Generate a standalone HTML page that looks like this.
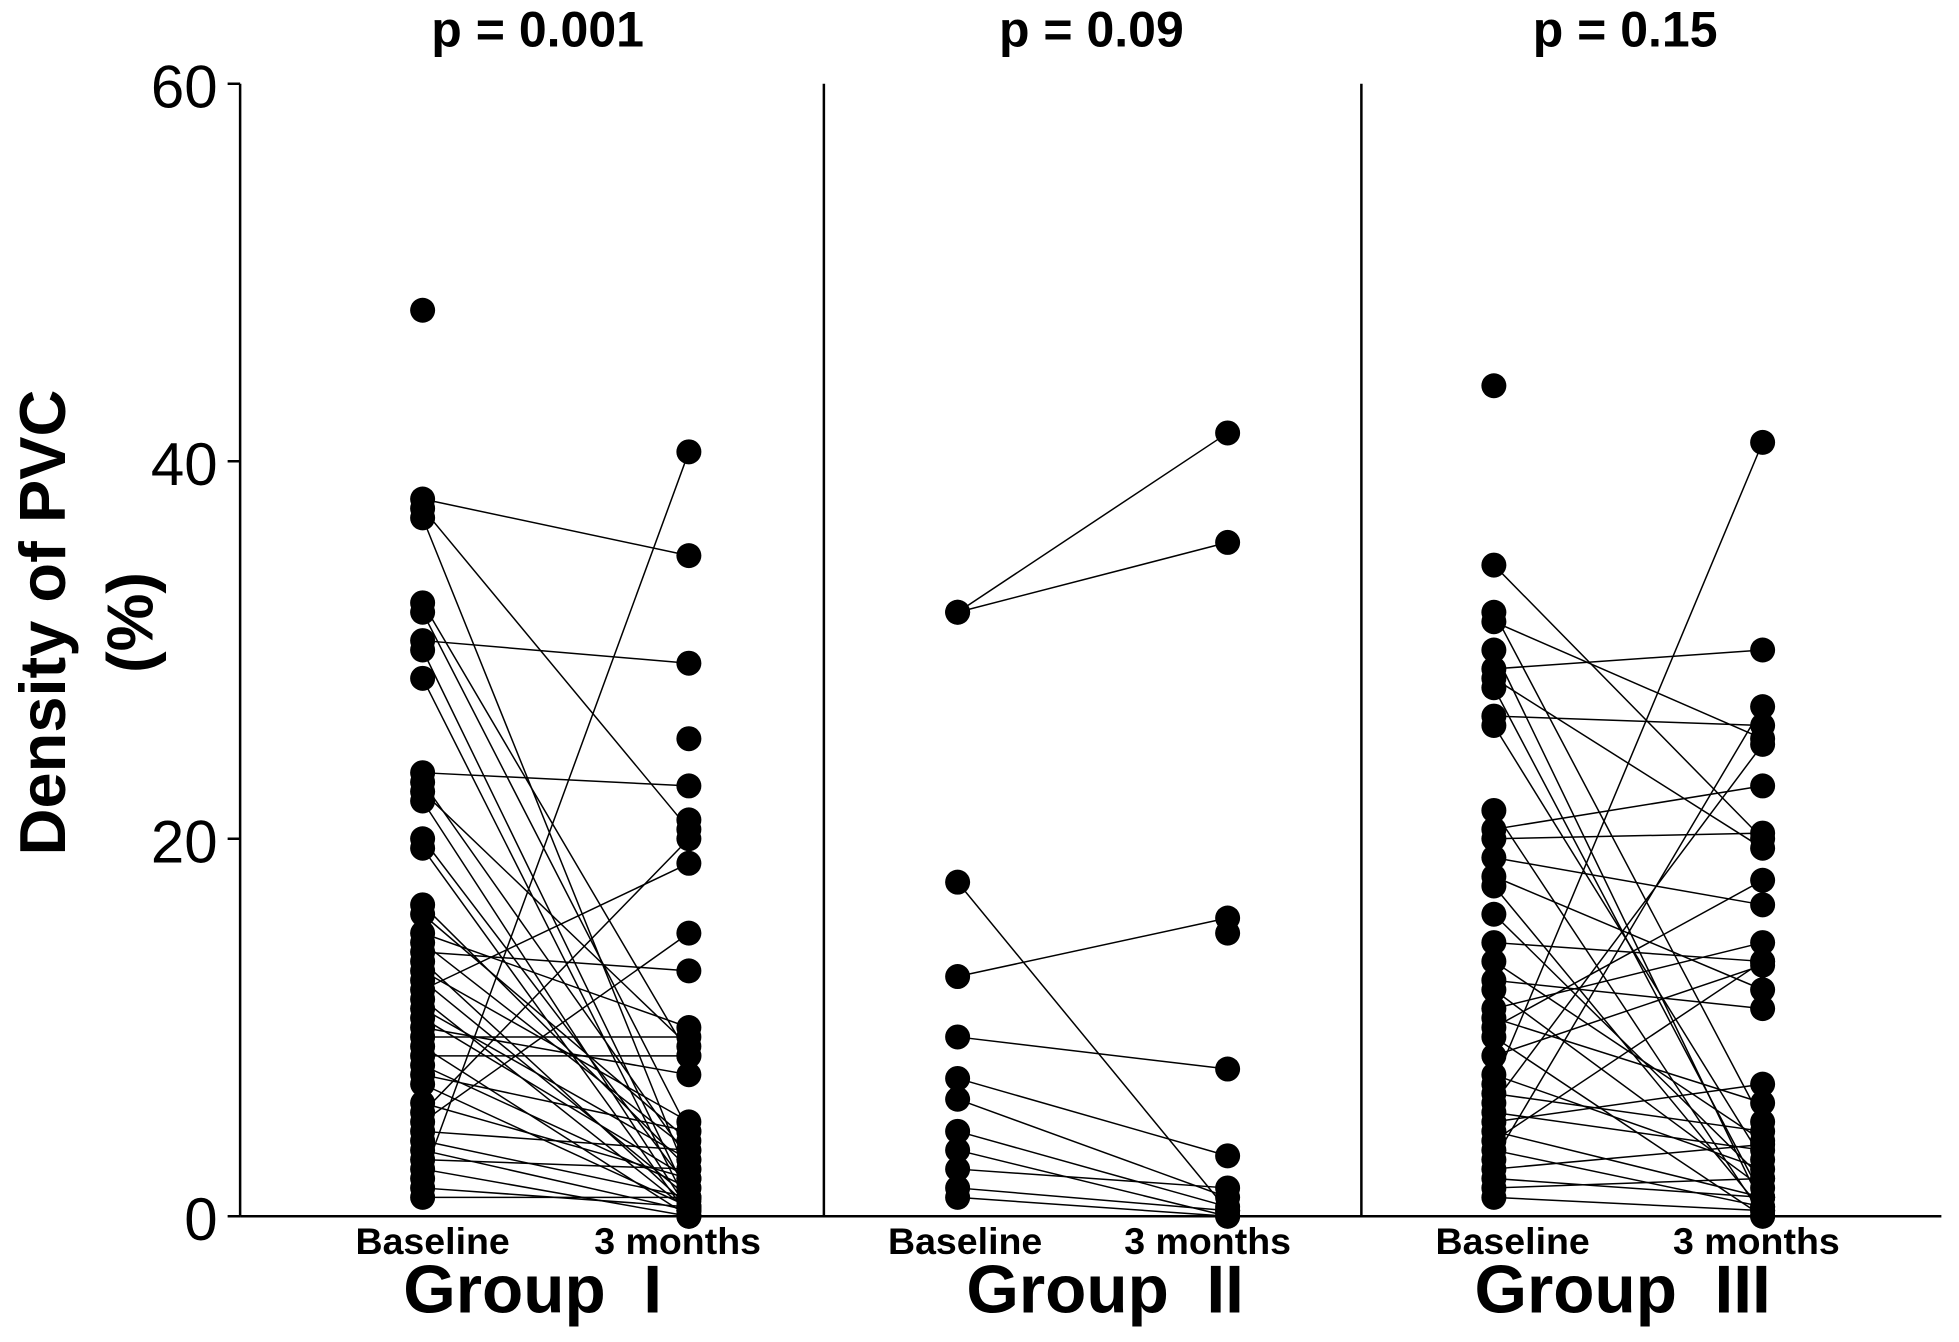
<!DOCTYPE html>
<html><head><meta charset="utf-8"><style>
html,body{margin:0;padding:0;background:#fff;}
svg{display:block;}
text{font-family:"Liberation Sans",Arial,sans-serif;fill:#000;}
</style></head><body>
<svg id="s" width="1959" height="1342" viewBox="0 0 1567 1073.6" xmlns="http://www.w3.org/2000/svg">
<g stroke="#000" stroke-width="2" fill="none">
<line x1="192" y1="67" x2="192" y2="973"/>
<line x1="192" y1="973" x2="1553" y2="973"/>
<line x1="659" y1="67" x2="659" y2="973"/>
<line x1="1089" y1="67" x2="1089" y2="973"/>
<line x1="182" y1="67" x2="192" y2="67"/>
<line x1="182" y1="369" x2="192" y2="369"/>
<line x1="182" y1="671" x2="192" y2="671"/>
<line x1="182" y1="973" x2="192" y2="973"/>
</g>
<g font-size="48" text-anchor="end">
<text x="174" y="86">60</text>
<text x="174" y="388">40</text>
<text x="174" y="690">20</text>
<text x="174" y="992">0</text>
</g>
<text transform="translate(52,498) rotate(-90)" font-size="52" font-weight="bold" text-anchor="middle">Density of PVC</text>
<text transform="translate(122,498) rotate(-90)" font-size="52" font-weight="bold" text-anchor="middle">(%)</text>
<g font-size="40" font-weight="bold" text-anchor="middle">
<text x="430" y="37">p = 0.001</text>
<text x="873" y="37">p = 0.09</text>
<text x="1300" y="37">p = 0.15</text>
</g>
<g font-size="30" font-weight="bold" text-anchor="middle">
<text x="346" y="1003">Baseline</text><text x="542" y="1003">3 months</text>
<text x="772" y="1003">Baseline</text><text x="966" y="1003">3 months</text>
<text x="1210" y="1003">Baseline</text><text x="1405" y="1003">3 months</text>
</g>
<g font-size="54" font-weight="bold" text-anchor="middle">
<text x="426" y="1050">Group&#160; I</text>
<text x="884" y="1050">Group&#160; II</text>
<text x="1298" y="1050">Group&#160; III</text>
</g>
<g id="d"></g>
</svg>
<script>
var g=document.getElementById('d'),NS='http://www.w3.org/2000/svg';
function y(v){return 973-v*15.1;}
function add(x1,x2,pairs,extraB,extraA){
 pairs.forEach(function(p){
  if(p[1]!==null){var l=document.createElementNS(NS,'line');l.setAttribute('x1',x1);l.setAttribute('y1',y(p[0]));l.setAttribute('x2',x2);l.setAttribute('y2',y(p[1]));l.setAttribute('stroke','#000');l.setAttribute('stroke-width','1.2');g.appendChild(l);}
 });
 function dot(x,v){var c=document.createElementNS(NS,'circle');c.setAttribute('cx',x);c.setAttribute('cy',y(v));c.setAttribute('r','10');g.appendChild(c);}
 pairs.forEach(function(p){dot(x1,p[0]);if(p[1]!==null)dot(x2,p[1]);});
 (extraB||[]).forEach(function(v){dot(x1,v);});
 (extraA||[]).forEach(function(v){dot(x2,v);});
}
add(338,551,[[38,35],[37.5,20.5],[37,2],[32.5,8.5],[32,4.5],[30.5,29.3],[30,1],[28.5,0.5],[23.5,22.8],[23,3],[22.5,9],[22,0.3],[20,1.5],[19.5,0],[16.5,2.5],[16,4],[15,10],[14.5,3.5],[14,13],[13.5,0.5],[13,5],[12.5,1],[12,18.7],[11.5,0.3],[11,3],[10.5,2],[10,7.5],[9.5,9.5],[9,0],[8.5,8.5],[8,1.5],[7.5,4.5],[7,0.5],[6,2],[5.5,20],[5,15],[4.5,3.5],[4,1],[3.5,0.3],[3,2.5],[2.5,0],[2,40.5],[1.5,0.5],[1,1]],[48],[25.3,21,0.8]);
add(766,982,[[32,41.5],[32,35.7],[17.7,0.3],[12.7,15.8],[9.5,7.8],[7.3,3.2],[6.2,1],[4.5,0.5],[3.5,0],[2.5,1.5],[1.5,0.3],[1,0]],[],[15]);
add(1195,1410,[[34.5,20],[32,5],[31.5,25.3],[30,0.5],[29,30],[28.5,19.5],[28,1],[26.5,26],[26,3],[21.5,0],[20.5,22.8],[20,20.3],[19,16.5],[18,12],[17.5,0.3],[16,2],[14.5,13.5],[13.5,4],[12.5,11],[12,1.5],[11,14.5],[10.5,6],[10,17.8],[9.5,0],[8.5,13.3],[7.5,2.5],[7,41],[6.5,4.5],[6,25],[5.5,3.5],[5,7],[4.5,1],[4,13.5],[3.5,0.5],[3,27],[2.5,3.8],[2,1],[1.5,2],[1,0.3]],[44],[]);
</script>
</body></html>
